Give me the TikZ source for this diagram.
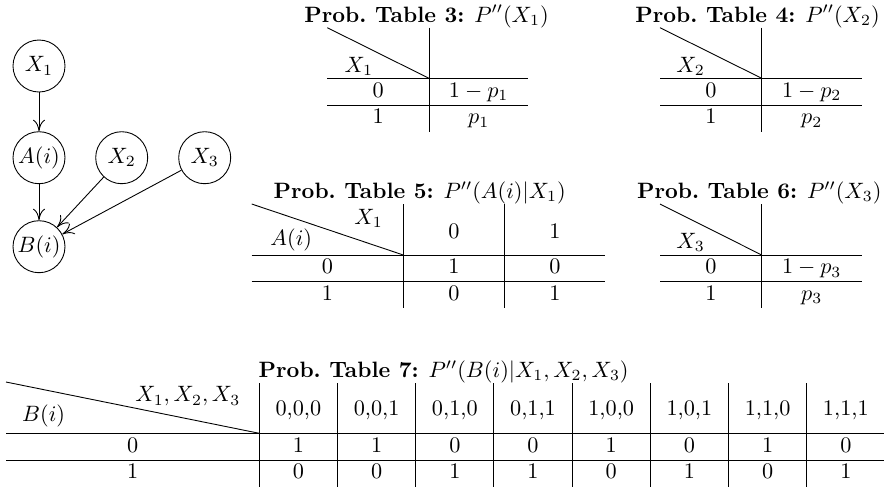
\documentclass[tikz,border=0pt]{standalone}
\usetikzlibrary{arrows.meta}
\begin{document}
\begin{tikzpicture}[x=0.45pt,y=-0.45pt, line width=0.4pt,
  gnode/.style={draw,circle,minimum size=23.4pt,inner sep=0pt},
  edge/.style={-{To[length=5.2pt,width=5.4pt]}},
  txt/.style={inner sep=0pt,anchor=base},
  lft/.style={inner sep=0pt,anchor=base west},
  rgt/.style={inner sep=0pt,anchor=base east},
  ttl/.style={inner sep=0pt,anchor=base west}]
\useasboundingbox (0,0) rectangle (884,488);

% ---------- graph ----------
\node[gnode] (x1) at (39,66) {$X_1$};
\node[gnode] (a)  at (39,157.7) {$A(i)$};
\node[gnode] (b)  at (39,246.7) {$B(i)$};
\node[gnode] (x2) at (121.7,157.7) {$X_2$};
\node[gnode] (x3) at (204.7,157.7) {$X_3$};
\draw[edge] (x1) -- (a);
\draw[edge] (a) -- (b);
\draw[edge] (x2) -- (b);
\draw[edge] (x3) -- (b);

% ---------- Table 3 ----------
\node[ttl] (t3) at (304,22) {\textbf{Prob.\ Table 3:} $P''(X_1)$};
\draw (327.3,27.7) -- (429,78.3);
\draw (429,27.7) -- (429,131.5);
\draw (327.3,78.3) -- (528.3,78.3);
\draw (327.3,105.3) -- (528.3,105.3);
\node[lft] (t3h) at (344.3,72) {$X_1$};
\node[txt] (t3a) at (378.2,97) {0};
\node[txt] (t3b) at (478.7,97) {$1-p_1$};
\node[txt] (t3c) at (378.2,123.7) {1};
\node[txt] (t3d) at (478.7,123.7) {$p_1$};

% ---------- Table 4 ----------
\node[ttl] (t4) at (635,22) {\textbf{Prob.\ Table 4:} $P''(X_2)$};
\draw (660,27.7) -- (761.7,78.3);
\draw (761.7,27.7) -- (761.7,131.5);
\draw (660,78.3) -- (861.7,78.3);
\draw (660,105.3) -- (861.7,105.3);
\node[lft] (t4h) at (676,72) {$X_2$};
\node[txt] (t4a) at (710.8,97) {0};
\node[txt] (t4b) at (811.7,97) {$1-p_2$};
\node[txt] (t4c) at (710.8,123.7) {1};
\node[txt] (t4d) at (811.7,123.7) {$p_2$};

% ---------- Table 5 ----------
\node[ttl] (t5) at (273.3,198.5) {\textbf{Prob.\ Table 5:} $P''(A(i)|X_1)$};
\draw (251.7,204) -- (403.3,255);
\draw (403.3,204) -- (403.3,308.4);
\draw (504.3,204) -- (504.3,308.4);
\draw (251.7,255) -- (605.3,255);
\draw (251.7,281.7) -- (605.3,281.7);
\node[rgt] (t5h1) at (383.3,224) {$X_1$};
\node[lft] (t5h2) at (270,245) {$A(i)$};
\node[txt] (t5c0) at (453.8,238) {0};
\node[txt] (t5c1) at (554.8,238) {1};
\node[txt] (t5r0) at (327.5,273.7) {0};
\node[txt] (t5v00) at (453.8,273.7) {1};
\node[txt] (t5v01) at (554.8,273.7) {0};
\node[txt] (t5r1) at (327.5,300.4) {1};
\node[txt] (t5v10) at (453.8,300.4) {0};
\node[txt] (t5v11) at (554.8,300.4) {1};

% ---------- Table 6 ----------
\node[ttl] (t6) at (636.7,198.5) {\textbf{Prob.\ Table 6:} $P''(X_3)$};
\draw (660,204) -- (761.7,255);
\draw (761.7,204) -- (761.7,308.4);
\draw (660,255) -- (861.7,255);
\draw (660,281.7) -- (861.7,281.7);
\node[lft] (t6h) at (676,248.5) {$X_3$};
\node[txt] (t6a) at (710.8,273.7) {0};
\node[txt] (t6b) at (811.7,273.7) {$1-p_3$};
\node[txt] (t6c) at (710.8,300.4) {1};
\node[txt] (t6d) at (811.7,300.4) {$p_3$};

% ---------- Table 7 ----------
\node[ttl] (t7) at (258.3,377.5) {\textbf{Prob.\ Table 7:} $P''(B(i)|X_1,X_2,X_3)$};
\draw (6,382) -- (259.3,433.3);
\foreach \k in {0,...,7}
  \draw (259.3+78.2*\k,383.3) -- (259.3+78.2*\k,486.7);
\draw (6,433.3) -- (884,433.3);
\draw (6,460) -- (884,460);
\node[rgt] (t7h1) at (240.7,401.7) {$X_1,X_2,X_3$};
\node[lft] (t7h2) at (21.7,421) {$B(i)$};
\node[txt] (t7r0) at (132.7,452) {0};
\node[txt] (t7r1) at (132.7,478.7) {1};
\foreach \h/\u/\v [count=\k from 0] in {{0,0,0}/1/0, {0,0,1}/1/0, {0,1,0}/0/1, {0,1,1}/0/1, {1,0,0}/1/0, {1,0,1}/0/1, {1,1,0}/1/0, {1,1,1}/0/1}{
  \node[txt] (t7c\k) at (298.4+78.2*\k,415) {\h};
  \node[txt] (t7u\k) at (298.4+78.2*\k,452) {\u};
  \node[txt] (t7v\k) at (298.4+78.2*\k,478.7) {\v};
}
\end{tikzpicture}
\end{document}
